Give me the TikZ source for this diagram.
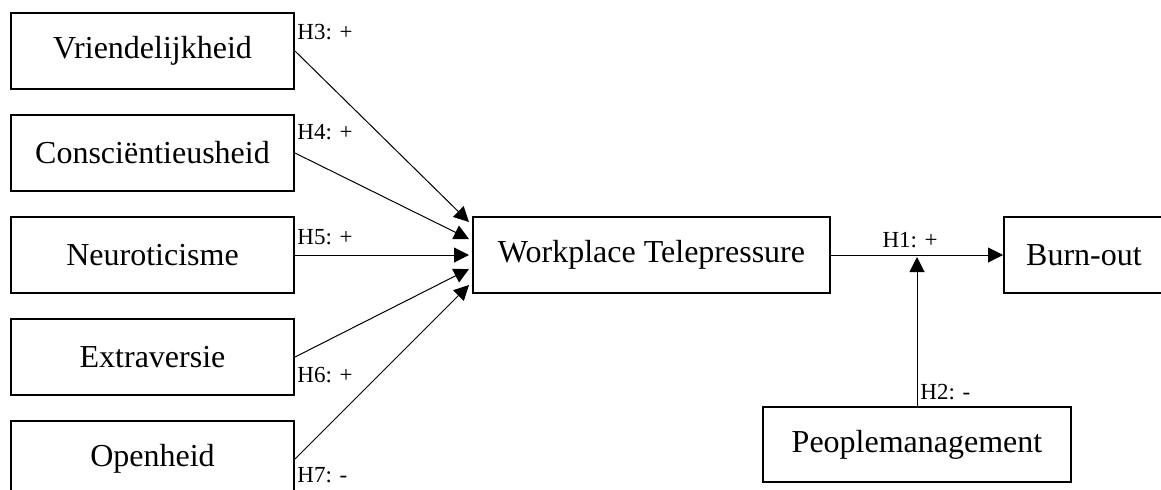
\documentclass[tikz,border=0pt]{standalone}
\usepackage{fontspec}
\setmainfont{Liberation Serif}
\usetikzlibrary{arrows.meta,positioning,calc}

\begin{document}
\begin{tikzpicture}[
    font=\fontsize{16}{19}\selectfont,
    node distance=12pt,
    block/.style={
        draw,
        line width=1pt,
        align=center,
        minimum width=141.5pt,
        minimum height=38pt,
        inner sep=2pt
    },
    hyp/.style={
        font=\fontsize{11.5}{13}\selectfont,
        inner sep=0pt
    },
    line/.style={-{Triangle[length=7.5pt, width=7.5pt]}, line width=0.5pt}
]

\path[use as bounding box, fill=white] (0,0) rectangle (580.5pt,-244.5pt);

% --- Traits ---
\node[block] (vr) at (76.25pt,-25.5pt) {Vriendelijkheid};
\node[block, below=of vr] (co) {Consciëntieusheid};
\node[block, below=of co] (ne) {Neuroticisme};
\node[block, below=of ne] (ex) {Extraversie};
\node[block, below=of ex] (op) {Openheid};

% --- Centre ---
\node[block, minimum width=178.5pt, right=88.5pt of ne] (wtp) {Workplace Telepressure};
\node[block, minimum width=80pt, right=86pt of wtp] (bo) {Burn-out};

% --- Moderator ---
\coordinate (mod) at ($(wtp.east)!0.5!(bo.west) + (0,-1pt)$);
\node[block, minimum width=154pt, minimum height=37.5pt, below=74.5pt of mod] (pm) {Peoplemanagement};

% --- Arrow ends ---
\coordinate (in3) at ([xshift=-1.5pt, yshift=16.5pt]wtp.west);
\coordinate (in4) at ([xshift=-1.5pt, yshift=8pt]wtp.west);
\coordinate (in5) at ([xshift=-1.5pt]wtp.west);
\coordinate (in6) at ([xshift=-1.5pt, yshift=-7pt]wtp.west);
\coordinate (in7) at ([xshift=-1.5pt, yshift=-15pt]wtp.west);

% --- Connections ---
\draw[line] (vr.east) -- (in3);
\draw[line] (co.east) -- (in4);
\draw[line] (ne.east) -- (in5);
\draw[line] (ex.east) -- (in6);
\draw[line] (op.east) -- (in7);

\draw[line] (wtp) -- node[hyp, above, inner sep=3.5pt, pos=0.46] (h1) {H1: +} (bo);
\draw[line] (pm) -- (mod);

% --- Hypotheses ---
\node[hyp, below right=6pt and 1pt of vr.north east] (h3) {H3: +};
\node[hyp, below right=5pt and 1pt of co.north east] (h4) {H4: +};
\node[hyp, below right=6.5pt and 1pt of ne.north east] (h5) {H5: +};
\node[hyp, above right=6.5pt and 1pt of ex.south east] (h6) {H6: +};
\node[hyp, above right=7.5pt and 1pt of op.south east] (h7) {H7: -};
\node[hyp, above right=3pt and 1.5pt of pm.north] (h2) {H2: -};

\end{tikzpicture}
\end{document}
